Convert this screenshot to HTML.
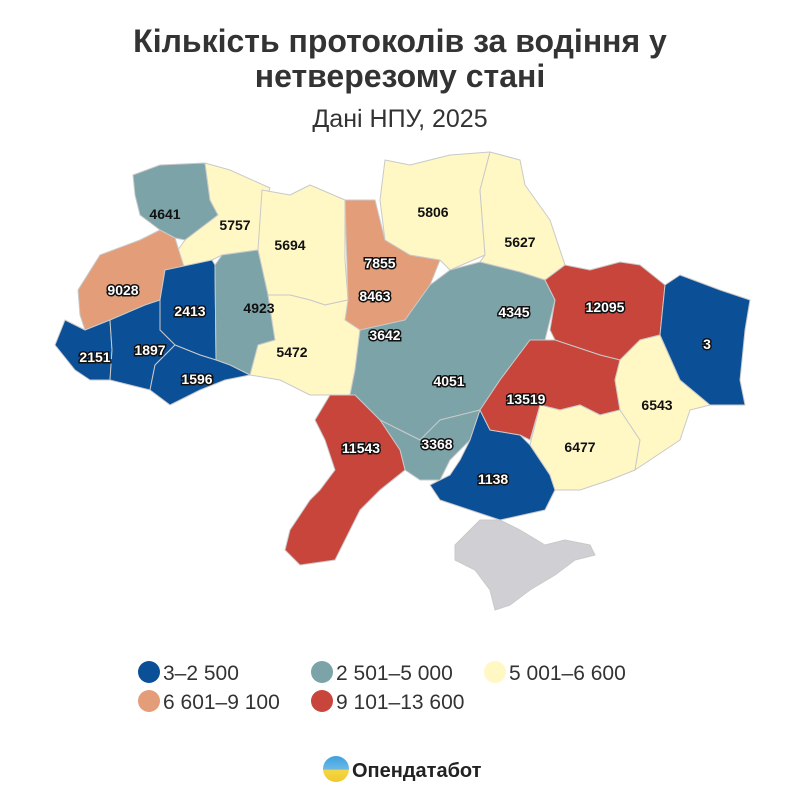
<!DOCTYPE html>
<html><head><meta charset="utf-8"><style>
body{margin:0;background:#fff;width:800px;height:800px;overflow:hidden;font-family:"Liberation Sans",sans-serif}
</style></head><body>
<svg width="800" height="800" viewBox="0 0 800 800" xmlns="http://www.w3.org/2000/svg" font-family="Liberation Sans, sans-serif">
<text x="400" y="52" text-anchor="middle" font-size="32" font-weight="bold" fill="#333">Кількість протоколів за водіння у</text>
<text x="400" y="87" text-anchor="middle" font-size="32" font-weight="bold" fill="#333">нетверезому стані</text>
<text x="400" y="127" text-anchor="middle" font-size="25" fill="#333">Дані НПУ, 2025</text>
<g stroke="#c9c9c9" stroke-width="1" stroke-linejoin="round">
<polygon fill="#7ba3a8" points="133,175 160,165 205,163 210,200 218,215 185,240 175,238 160,230 140,215 135,195"/>
<polygon fill="#fff8c5" points="205,163 230,170 270,188 262,210 258,250 222,255 212,260 185,270 178,250 185,240 218,215 210,200"/>
<polygon fill="#fff8c5" points="262,190 290,195 310,185 345,200 345,260 348,300 325,305 310,300 290,295 268,295 258,250"/>
<polygon fill="#e39d78" points="345,200 375,200 385,240 410,255 440,260 430,285 405,320 360,330 345,320 348,300"/>
<polygon fill="#fff8c5" points="385,160 410,165 450,155 490,152 480,190 485,255 450,270 440,260 410,255 385,240 380,200"/>
<polygon fill="#fff8c5" points="490,152 520,160 525,185 550,220 565,265 545,280 520,272 480,262 485,255 480,190"/>
<polygon fill="#e39d78" points="78,290 100,255 140,240 160,230 175,238 185,270 165,270 160,300 145,305 110,320 85,330 80,315"/>
<polygon fill="#0b4f96" points="165,270 212,260 215,265 216,360 200,355 175,345 160,330 160,300"/>
<polygon fill="#7ba3a8" points="215,265 222,255 258,250 268,295 275,340 258,345 250,375 230,365 216,360"/>
<polygon fill="#0b4f96" points="55,345 65,320 85,330 110,320 112,350 110,380 90,380 75,370"/>
<polygon fill="#0b4f96" points="110,320 145,305 160,300 160,330 175,345 155,365 150,390 130,385 110,380 112,350"/>
<polygon fill="#0b4f96" points="150,390 155,365 175,345 200,355 216,360 230,365 250,375 225,380 200,390 170,405"/>
<polygon fill="#fff8c5" points="268,295 290,295 310,300 325,305 348,300 345,320 360,330 355,370 350,395 330,395 310,395 280,380 250,375 258,345 275,340"/>
<polygon fill="#7ba3a8" points="360,330 405,320 430,285 450,270 480,262 520,272 545,280 555,300 545,340 530,340 500,380 480,410 440,420 420,440 400,430 380,420 355,395 350,395 355,370"/>
<polygon fill="#7ba3a8" points="380,420 400,430 420,440 440,420 480,410 470,440 450,460 440,480 420,480 405,470 400,450"/>
<polygon fill="#c8453b" points="330,395 355,395 380,420 400,450 405,470 380,490 360,510 345,540 335,560 300,565 285,550 290,530 310,500 320,490 335,470 325,440 315,420"/>
<polygon fill="#0b4f96" points="480,410 490,430 520,435 530,445 550,475 555,490 545,510 500,520 470,510 440,500 430,485 450,475 460,460 470,440"/>
<polygon fill="#c8453b" points="545,280 565,265 590,270 620,262 640,265 665,285 660,335 640,340 620,360 600,355 555,340 550,330 555,300"/>
<polygon fill="#c8453b" points="500,380 530,340 555,340 600,355 620,360 615,380 620,410 600,415 580,405 560,410 540,405 530,440 520,435 490,430 480,410"/>
<polygon fill="#fff8c5" points="540,405 560,410 580,405 600,415 620,410 640,440 635,470 610,480 580,490 555,490 550,475 530,445"/>
<polygon fill="#fff8c5" points="620,360 640,340 660,335 680,380 710,405 690,410 680,440 650,460 635,470 640,440 620,410 615,380"/>
<polygon fill="#0b4f96" points="665,285 680,275 720,290 750,300 745,330 740,380 745,405 710,405 680,380 660,335"/>
<polygon fill="#d0d0d4" points="455,545 480,520 500,520 520,530 545,545 565,540 590,545 595,555 575,560 555,575 530,590 510,605 495,610 490,590 475,570 455,560"/>
</g>
<g font-size="14" font-weight="bold" text-anchor="middle">
<g fill="#111">
<text x="165" y="219">4641</text><text x="235" y="230">5757</text><text x="290" y="250">5694</text>
<text x="433" y="217">5806</text><text x="520" y="247">5627</text><text x="292" y="357">5472</text>
<text x="657" y="410">6543</text><text x="580" y="452">6477</text><text x="259" y="313">4923</text>
</g>
<g fill="#fff" stroke="#111" stroke-width="3" paint-order="stroke">
<text x="123" y="295">9028</text><text x="190" y="316">2413</text><text x="95" y="362">2151</text>
<text x="150" y="355">1897</text><text x="197" y="384">1596</text><text x="380" y="268">7855</text>
<text x="375" y="301">8463</text><text x="385" y="340">3642</text><text x="514" y="317">4345</text>
<text x="449" y="386">4051</text><text x="605" y="312">12095</text><text x="526" y="404">13519</text>
<text x="707" y="349">3</text><text x="361" y="453">11543</text><text x="437" y="449">3368</text>
<text x="493" y="484">1138</text>
</g>
</g>
<g font-size="21" fill="#333">
<circle cx="149" cy="672" r="11" fill="#0b4f96"/><text x="163" y="680">3–2 500</text>
<circle cx="322" cy="672" r="11" fill="#7ba3a8"/><text x="336" y="680">2 501–5 000</text>
<circle cx="495" cy="672" r="11" fill="#fff8c5"/><text x="509" y="680">5 001–6 600</text>
<circle cx="149" cy="701" r="11" fill="#e39d78"/><text x="163" y="709">6 601–9 100</text>
<circle cx="322" cy="701" r="11" fill="#c8453b"/><text x="336" y="709">9 101–13 600</text>
</g>
<defs><linearGradient id="lg" x1="0" y1="0" x2="0" y2="1"><stop offset="0" stop-color="#3fa0e0"/><stop offset="0.5" stop-color="#6ab8e6"/><stop offset="0.55" stop-color="#f5d742"/><stop offset="1" stop-color="#f0c830"/></linearGradient></defs>
<circle cx="336" cy="769" r="13" fill="url(#lg)"/>
<text x="352" y="777" font-size="20" font-weight="bold" fill="#222">Опендатабот</text>
</svg>
</body></html>
